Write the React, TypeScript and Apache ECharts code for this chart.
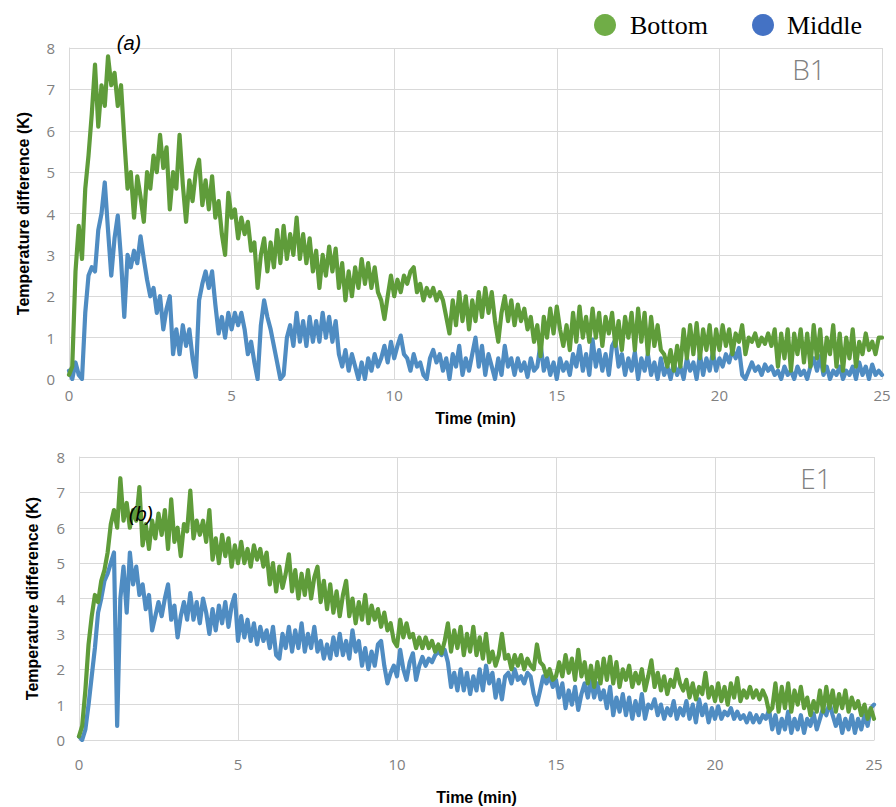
import React, { useEffect, useRef } from "react";
import * as echarts from "echarts";

// Time samples (min), one every 0.1 min from 0 to 25
const timeMin: number[] = Array.from({ length: 251 }, (_, i) => +(i * 0.1).toFixed(1));

const xTicks = [0, 5, 10, 15, 20, 25];
const yTicks = [0, 1, 2, 3, 4, 5, 6, 7, 8];

// Panel (a) B1 — Bottom sensor
const b1Bottom: number[] = [
  0.1, 0.3, 2.6, 3.7, 2.9, 4.6, 5.4, 6.4, 7.6, 6.1,
  7.1, 6.6, 7.8, 7.1, 7.4, 6.6, 7.1, 5.8, 4.6, 5.0,
  3.9, 4.9, 4.4, 3.8, 5.0, 4.6, 5.4, 5.0, 5.9, 5.1,
  5.6, 4.1, 5.0, 4.6, 5.9, 4.7, 3.8, 4.8, 4.3, 5.0,
  5.3, 4.2, 4.8, 4.1, 4.9, 3.9, 4.3, 3.5, 3.0, 4.5,
  3.9, 4.1, 3.4, 3.9, 3.5, 3.8, 3.1, 3.3, 2.2, 3.0,
  3.4, 2.6, 3.3, 2.7, 3.6, 2.8, 3.7, 2.9, 3.5, 3.0,
  3.9, 2.9, 3.5, 2.8, 3.4, 2.6, 3.1, 2.2, 3.0, 2.5,
  3.2, 2.6, 3.15, 2.2, 2.8, 1.9, 2.6, 2.0, 2.7, 2.2,
  2.9, 2.3, 2.8, 2.2, 2.7, 2.1, 1.9, 1.45, 2.0, 2.5,
  2.0, 2.4, 2.1, 2.5, 2.3, 2.6, 2.7, 2.1, 2.3, 1.9,
  2.2, 2.0, 2.2, 1.9, 2.1, 1.9, 1.5, 1.1, 1.9, 1.3,
  2.1, 1.4, 2.0, 1.2, 1.9, 1.4, 2.1, 1.5, 2.2, 1.6,
  2.1, 1.4, 0.9, 1.6, 2.0, 1.4, 1.9, 1.3, 1.8, 1.4,
  1.7, 1.2, 1.5, 0.9, 1.3, 0.55, 1.5, 1.0, 1.7, 1.1,
  1.75, 1.2, 0.8, 1.3, 0.7, 1.6, 0.9, 1.75, 1.0, 1.5,
  0.9, 1.7, 1.0, 1.6, 0.8, 1.5, 1.1, 1.6, 0.8, 1.4,
  0.7, 1.5, 1.0, 1.6, 0.7, 1.7, 0.9, 1.6, 0.6, 1.5,
  0.8, 1.3, 0.7, 0.6, 0.3, 0.7, 0.2, 0.8, 0.3, 1.2,
  0.5, 1.3, 0.6, 1.35, 0.5, 1.2, 0.7, 1.3, 0.5, 1.2,
  0.7, 1.3, 0.8, 1.2, 0.6, 1.1, 0.9, 1.3, 0.6, 1.0,
  0.9, 1.1, 0.8, 1.0, 0.85, 1.1, 0.8, 1.2, 0.3, 1.1,
  0.5, 1.2, 0.2, 1.1, 0.6, 1.2, 0.4, 1.1, 0.3, 1.3,
  0.5, 1.2, 0.2, 1.0, 0.6, 1.3, 0.3, 1.1, 0.2, 1.0,
  0.5, 1.2, 0.3, 0.9, 0.6, 1.1, 0.7, 0.9, 0.6, 1.0,
  1.0,
];

// Panel (a) B1 — Middle sensor
const b1Middle: number[] = [
  0.2, 0.0, 0.4, 0.1, 0.0, 1.6, 2.5, 2.7, 2.6, 3.6,
  4.0, 4.75, 3.6, 2.5, 3.4, 3.95, 2.9, 1.5, 3.0, 2.7,
  3.1, 2.8, 3.45, 2.9, 2.4, 2.0, 2.2, 1.6, 2.0, 1.2,
  1.7, 2.0, 0.6, 1.2, 0.6, 1.3, 0.8, 1.2, 0.5, 0.05,
  1.9, 2.3, 2.6, 2.2, 2.6, 1.8, 1.1, 1.5, 1.0, 1.6,
  1.2, 1.6, 1.3, 1.6, 1.2, 0.6, 0.9, 0.4, 0.0, 1.3,
  1.9, 1.5, 1.2, 0.8, 0.4, 0.0, 0.1, 1.0, 1.3, 0.8,
  1.6, 0.9, 1.4, 0.8, 1.5, 0.9, 1.4, 0.9, 1.6, 1.0,
  1.5, 0.9, 1.4, 0.6, 0.3, 0.7, 0.2, 0.6, 0.3, 0.0,
  0.4, 0.0, 0.5, 0.2, 0.6, 0.3, 0.5, 0.8, 0.4, 0.9,
  0.5, 0.8, 1.05, 0.6, 0.5, 0.2, 0.6, 0.3, 0.4, 0.1,
  0.0, 0.5, 0.7, 0.4, 0.6, 0.2, 0.5, 0.0, 0.6, 0.3,
  0.8, 0.1, 0.5, 0.2, 0.6, 1.0, 0.3, 0.8, 0.1, 0.6,
  0.3, 0.0, 0.5, 0.1, 0.8, 0.3, 0.5, 0.1, 0.5, 0.2,
  0.4, 0.05, 0.5, 0.2, 0.3, 0.85, 0.2, 0.5, 0.1, 0.4,
  0.0, 0.5, 0.2, 0.4, 0.1, 0.6, 0.3, 0.8, 0.2, 0.6,
  0.1, 0.95, 0.3, 0.7, 0.2, 0.6, 0.1, 0.8, 0.95, 0.3,
  0.6, 0.1, 0.5, 0.2, 0.65, 0.0, 0.5, 0.2, 0.6, 0.1,
  0.4, 0.0, 0.5, 0.1, 0.3, 0.0, 0.4, 0.1, 0.3, 0.0,
  0.5, 0.2, 0.4, 0.0, 0.6, 0.1, 0.5, 0.2, 0.65, 0.2,
  0.5, 0.3, 0.6, 0.4, 0.7, 0.5, 0.75, 0.1, 0.0, 0.2,
  0.4, 0.2, 0.3, 0.1, 0.35, 0.2, 0.3, 0.1, 0.2, 0.0,
  0.3, 0.1, 0.2, 0.0, 0.3, 0.1, 0.2, 0.0, 0.3, 0.5,
  0.2, 0.55, 0.1, 0.3, 0.0, 0.2, 0.1, 0.3, 0.0, 0.2,
  0.1, 0.3, 0.0, 0.4, 0.1, 0.3, 0.0, 0.35, 0.1, 0.2,
  0.1,
];

// Panel (b) E1 — Bottom sensor
const e1Bottom: number[] = [
  0.1, 0.4, 1.4, 2.7, 3.5, 4.1, 3.9, 4.5, 4.8, 5.3,
  6.1, 6.5, 6.0, 7.4, 6.2, 6.7, 6.0, 6.5, 6.2, 7.15,
  5.5, 6.1, 5.4, 6.2, 5.7, 6.4, 5.8, 6.5, 5.4, 6.8,
  5.6, 6.0, 5.2, 6.1, 5.9, 7.05, 5.7, 6.2, 5.8, 6.2,
  5.6, 6.5, 5.1, 5.7, 5.0, 5.8, 5.2, 5.7, 4.9, 5.5,
  5.0, 5.6, 5.0, 5.4, 4.9, 5.5, 5.1, 5.4, 4.9, 5.3,
  4.4, 5.0, 4.2, 4.9, 4.3, 4.7, 5.25, 4.2, 4.8, 4.0,
  4.7, 4.1, 4.8, 4.0, 4.6, 4.9, 3.9, 4.5, 3.7, 4.4,
  3.6, 4.2, 3.5, 4.1, 4.5, 3.5, 4.0, 3.3, 3.9, 3.4,
  4.1, 3.3, 3.8, 3.4, 3.7, 3.2, 3.6, 3.1, 3.3, 2.8,
  2.65, 3.4, 2.9, 3.3, 2.9, 3.0, 2.6, 2.9, 2.6, 2.9,
  2.6, 2.8, 2.5, 2.7, 2.45, 2.8, 3.3, 2.5, 3.1, 2.6,
  3.2, 2.4, 3.0, 2.5, 3.2, 2.4, 2.9, 2.3, 3.0, 2.2,
  2.5, 2.1, 2.4, 3.0, 2.3, 2.4, 2.0, 2.4, 2.1, 2.4,
  2.0, 2.3, 2.1, 2.0, 2.7, 2.2, 2.1, 1.8, 2.0, 1.7,
  1.8, 2.2, 1.8, 2.4, 1.9, 2.3, 1.7, 2.55, 1.8, 2.2,
  1.6, 2.1, 1.5, 2.2, 1.6, 2.3, 1.7, 2.35, 1.6, 2.2,
  1.5, 2.0, 1.7, 2.1, 1.5, 1.9, 1.6, 2.0, 1.4, 1.8,
  2.25, 1.5, 1.9, 1.4, 1.8, 1.3, 1.7, 1.5, 2.0, 1.6,
  1.4, 1.7, 1.2, 1.6, 1.15, 1.5, 1.3, 1.9, 1.2, 1.5,
  1.1, 1.6, 1.1, 1.5, 1.0, 1.6, 1.2, 1.75, 1.1, 1.4,
  1.2, 1.5, 1.2, 1.4, 1.15, 1.4, 1.2, 0.8, 0.9, 1.6,
  0.8, 1.5, 0.9, 1.6, 0.8, 1.4, 1.0, 1.5, 0.9, 1.2,
  0.7, 1.1, 0.8, 1.4, 0.8, 1.5, 0.9, 1.4, 0.8, 1.3,
  0.9, 1.4, 0.8, 1.2, 0.9, 1.1, 0.7, 1.0, 0.6, 0.9,
  0.6,
];

// Panel (b) E1 — Middle sensor
const e1Middle: number[] = [
  0.1, 0.0, 0.3, 1.0, 1.8, 2.6, 3.6, 4.0, 4.5, 4.7,
  5.0, 5.3, 0.4, 4.0, 4.9, 3.6, 5.3, 4.4, 4.9, 4.1,
  4.4, 3.7, 4.1, 3.1, 3.5, 3.9, 3.5, 4.0, 4.4, 3.4,
  3.8, 2.9, 3.5, 3.9, 3.4, 4.15, 3.4, 3.9, 3.3, 4.0,
  3.6, 3.0, 3.7, 3.1, 3.8, 3.3, 3.9, 3.2, 3.8, 4.1,
  2.8, 3.5, 2.9, 3.4, 2.8, 3.3, 2.7, 3.2, 2.8, 3.1,
  2.6, 3.2, 2.4, 2.3, 3.0, 2.6, 3.2, 2.5, 3.1, 2.6,
  3.3, 2.5, 3.0, 2.6, 3.2, 2.5, 2.8, 2.3, 2.7, 2.3,
  2.9, 2.4, 3.0, 2.4, 2.8, 2.3, 3.1, 2.5, 2.8, 2.1,
  2.6, 2.0, 2.5, 2.1, 2.7, 2.8, 2.1, 1.6, 1.9, 2.1,
  1.8, 2.55, 2.0, 1.7, 2.2, 2.45, 1.7, 2.1, 2.35, 2.1,
  2.3, 2.2, 2.4, 2.5, 2.4, 2.55, 2.2, 1.5, 1.9, 1.4,
  2.0, 1.4, 1.9, 1.3, 1.8, 1.4, 2.0, 1.4, 2.1, 1.6,
  1.9, 1.2, 1.7, 1.15, 1.8, 1.9, 1.6, 2.0, 1.7, 1.8,
  1.6, 1.9, 1.8, 1.3, 1.0, 1.4, 1.8, 1.6, 1.8, 1.5,
  1.7, 1.2, 1.6, 0.9, 1.4, 1.0, 1.5, 0.85, 1.3, 1.6,
  1.2, 1.7, 1.2, 1.6, 1.15, 1.4, 0.9, 1.5, 0.7, 1.2,
  0.8, 1.3, 0.7, 1.2, 0.6, 1.1, 0.7, 1.3, 0.6, 1.0,
  0.9, 1.15, 0.7, 1.0, 0.6, 0.9, 0.7, 1.1, 0.6, 0.9,
  0.7, 1.1, 0.6, 1.0, 0.5, 1.15, 0.7, 1.0, 0.5, 0.9,
  0.6, 0.95, 0.6, 0.8, 0.7, 0.9, 0.6, 0.8, 0.6, 0.7,
  0.5, 0.75, 0.5, 0.7, 0.5, 0.7, 0.6, 0.85, 0.3, 0.7,
  0.2, 0.6, 0.3, 0.8, 0.2, 0.6, 0.3, 0.7, 0.2, 0.6,
  0.4, 0.75, 0.3, 0.6, 0.9, 0.7, 1.05, 0.7, 0.4, 0.7,
  0.2, 0.6, 0.3, 0.7, 0.2, 0.6, 0.3, 0.7, 0.4, 0.9,
  1.0,
];

const seriesNames = ["Bottom", "Middle"];
const panelLabels = ["(a)", "(b)"];
const panelIds = ["B1", "E1"];

const GREEN = "#5f9c3a";
const BLUE = "#4f8cc2";
const LEG_GREEN = "#70ad47";
const LEG_BLUE = "#4472c4";
const GRID = "#d9d9d9";
const LABEL = "#808080";

function pairs(vals: number[]): number[][] {
  return vals.map((v, i) => [timeMin[i], v]);
}

export default function App() {
  const ref = useRef<HTMLDivElement>(null);
  useEffect(() => {
    document.body.style.margin = "0";
    if (!ref.current) return;
    const chart = echarts.init(ref.current, undefined, { renderer: "svg" });

    const xAxisBase = (gridIndex: number, gap: number, labelMargin: number) => ({
      type: "value" as const,
      gridIndex,
      min: xTicks[0],
      max: xTicks[xTicks.length - 1],
      interval: 5,
      name: "Time (min)",
      nameLocation: "middle" as const,
      nameGap: gap,
      nameTextStyle: { fontFamily: "Liberation Sans", fontWeight: "bold", fontSize: 16, color: "#000" },
      axisLine: { show: true, lineStyle: { color: GRID, width: 1 } },
      axisTick: { show: false },
      axisLabel: { margin: labelMargin, fontFamily: "Open Sans", fontSize: 15, color: LABEL },
      splitLine: { show: true, lineStyle: { color: GRID, width: 1 } },
    });
    const yAxisBase = (gridIndex: number, gap: number) => ({
      type: "value" as const,
      gridIndex,
      min: yTicks[0],
      max: yTicks[yTicks.length - 1],
      interval: 1,
      name: "Temperature difference (K)",
      nameLocation: "middle" as const,
      nameGap: gap,
      nameTextStyle: { fontFamily: "Liberation Sans", fontWeight: "bold", fontSize: 16, color: "#000" },
      axisLine: { show: true, lineStyle: { color: GRID, width: 1 } },
      axisTick: { show: false },
      axisLabel: { margin: 14, fontFamily: "Open Sans", fontSize: 15, color: LABEL },
      splitLine: { show: true, lineStyle: { color: GRID, width: 1 } },
    });

    const lineSeries = (name: string, data: number[], color: string, idx: number, z: number) => ({
      type: "line" as const,
      name,
      xAxisIndex: idx,
      yAxisIndex: idx,
      data: pairs(data),
      showSymbol: false,
      symbol: "none",
      z,
      lineStyle: { color, width: 4.2, join: "round" as const, cap: "round" as const },
      itemStyle: { color },
    });

    chart.setOption({
      animation: false,
      backgroundColor: "#ffffff",
      grid: [
        { left: 69, top: 48, right: 14, bottom: 428 },
        { left: 79, top: 457, right: 22, bottom: 67 },
      ],
      xAxis: [xAxisBase(0, 31, 8), xAxisBase(1, 49, 16)],
      yAxis: [yAxisBase(0, 38), yAxisBase(1, 39)],
      series: [
        lineSeries(seriesNames[1], b1Middle, BLUE, 0, 2),
        lineSeries(seriesNames[0], b1Bottom, GREEN, 0, 3),
        lineSeries(seriesNames[1], e1Middle, BLUE, 1, 2),
        lineSeries(seriesNames[0], e1Bottom, GREEN, 1, 3),
      ],
      graphic: [
        { type: "circle", shape: { cx: 605, cy: 25, r: 11 }, style: { fill: LEG_GREEN } },
        {
          type: "text", x: 630, y: 25,
          style: { text: seriesNames[0], fontFamily: "Liberation Serif", fontSize: 26, fill: "#000", verticalAlign: "middle", align: "left" },
        },
        { type: "circle", shape: { cx: 763, cy: 25, r: 11 }, style: { fill: LEG_BLUE } },
        {
          type: "text", x: 787, y: 25,
          style: { text: seriesNames[1], fontFamily: "Liberation Serif", fontSize: 26, fill: "#000", verticalAlign: "middle", align: "left" },
        },
        {
          type: "text", x: 129, y: 43, z: 10,
          style: { text: panelLabels[0], fontFamily: "Liberation Sans", fontStyle: "italic", fontSize: 20, fill: "#000", align: "center", verticalAlign: "middle" },
        },
        {
          type: "text", x: 141, y: 514, z: 10,
          style: { text: panelLabels[1], fontFamily: "Liberation Sans", fontStyle: "italic", fontSize: 20, fill: "#000", align: "center", verticalAlign: "middle" },
        },
        {
          type: "text", x: 809, y: 69,
          style: { text: panelIds[0], fontFamily: "Open Sans", fontWeight: 300, fontSize: 28, fill: LABEL, align: "center", verticalAlign: "middle" },
        },
        {
          type: "text", x: 816, y: 478,
          style: { text: panelIds[1], fontFamily: "Open Sans", fontWeight: 300, fontSize: 28, fill: LABEL, align: "center", verticalAlign: "middle" },
        },
      ],
    });
    return () => chart.dispose();
  }, []);
  return <div ref={ref} style={{ width: 896, height: 807 }} />;
}
